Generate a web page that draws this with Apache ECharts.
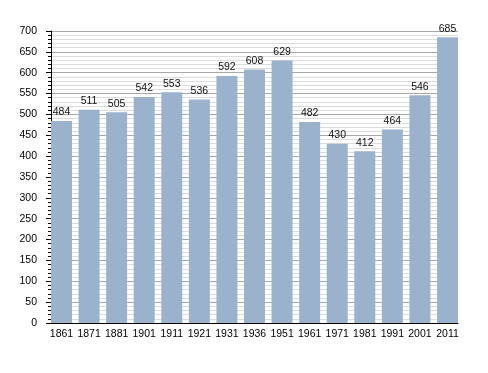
<!DOCTYPE html>
<html><head><meta charset="utf-8">
<script src="https://cdn.jsdelivr.net/npm/echarts@6/dist/echarts.min.js"></script>
<style>html,body{margin:0;padding:0;background:#fff}#c{width:488px;height:373px}</style>
</head><body><div id="c"></div>
<script>
var years = ['1861','1871','1881','1901','1911','1921','1931','1936','1951','1961','1971','1981','1991','2001','2011'];
var population = [484,511,505,542,553,536,592,608,629,482,430,412,464,546,685];
var yMin = 0, yMax = 700, yStep = 50;

var font = 'Liberation Sans, Arial';
var chart = echarts.init(document.getElementById('c'));
chart.setOption({
  animation: false,
  grid: [
    {left: 47.7, right: 26.7, top: 31, bottom: 50},
    {left: 51, right: 30, top: 31, bottom: 50}
  ],
  xAxis: [
    {
      type: 'category', data: years, gridIndex: 0,
      axisLine: {show: false},
      axisTick: {show: false},
      axisLabel: {color: '#000', fontFamily: font, fontSize: 10.5, margin: 6, interval: 0}
    },
    {
      type: 'category', data: years, gridIndex: 1,
      axisLine: {show: true, lineStyle: {color: '#000', width: 1}},
      axisTick: {show: false},
      axisLabel: {show: false}
    }
  ],
  yAxis: [
    {
      type: 'value', min: yMin, max: yMax, interval: yStep, gridIndex: 0,
      show: false, splitLine: {show: false}
    },
    {
      type: 'value', min: yMin, max: yMax, interval: yStep, gridIndex: 1,
      axisLine: {show: true, lineStyle: {color: '#000', width: 1}},
      axisTick: {show: true, length: 5, lineStyle: {color: '#000'}},
      minorTick: {show: true, splitNumber: 5, length: 3, lineStyle: {color: '#000'}},
      axisLabel: {color: '#000', fontFamily: font, fontSize: 10.5, margin: 14},
      splitLine: {lineStyle: {color: '#a8a8a8', width: 1}},
      minorSplitLine: {show: true, lineStyle: {color: '#dcdcdc', width: 1}}
    }
  ],
  series: [{
    type: 'bar', data: population, xAxisIndex: 0, yAxisIndex: 0,
    barWidth: 21,
    itemStyle: {color: '#9bb2cd'},
    label: {show: true, position: 'top', distance: 3, color: '#111', fontFamily: font, fontSize: 10.5}
  }]
});
</script></body></html>
